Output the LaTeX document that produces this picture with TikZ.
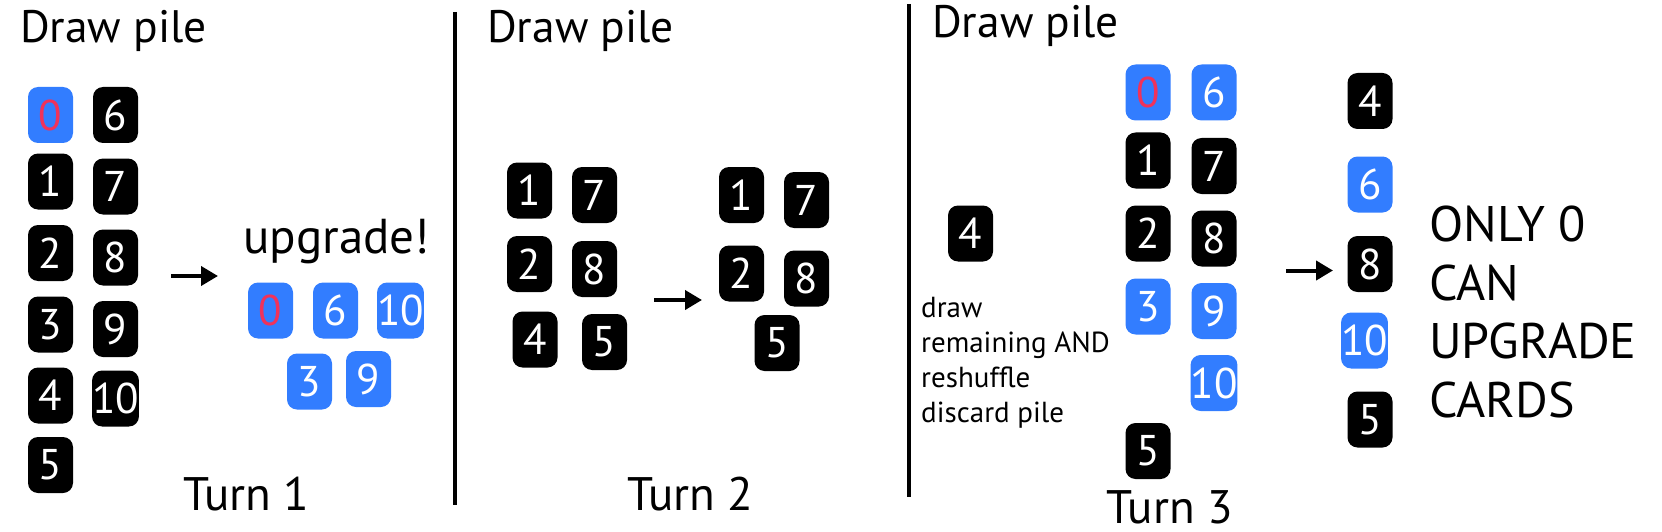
\documentclass[tikz,border=0pt]{standalone}
\usepackage{fontspec}
\setmainfont{PT Sans}
\usetikzlibrary{arrows.meta}
\definecolor{cardblue}{RGB}{50,125,255}
\definecolor{zerored}{RGB}{240,50,90}

\begin{document}
\begin{tikzpicture}[x=1pt,y=-1pt,line join=round,
  card/.style={rounded corners=10pt,fill=black,text=white,minimum width=45pt,minimum height=56pt,inner sep=0pt,font=\fontsize{43}{43}\selectfont},
  upcard/.style={card,fill=cardblue},
  zerocard/.style={upcard,text=zerored},
  pilelabel/.style={anchor=base west,inner sep=0pt,font=\fontsize{45.5}{45.5}\selectfont},
  turnlabel/.style={anchor=base west,inner sep=0pt,font=\fontsize{47}{47}\selectfont},
  pushto/.style={line width=4pt,-{Triangle[length=17pt,width=19pt]}},
  divider/.style={line width=4pt}]
\useasboundingbox (0,0) rectangle (1662,532);
% turn 1
\node[pilelabel] (pile1) at (20,43) {Draw pile};
\node[zerocard] (t1c0) at (50.5,115) {0};
\node[card] (t1c6) at (115.5,115) {6};
\node[card] (t1c1) at (50.5,181.5) {1};
\node[card] (t1c7) at (115.5,186.5) {7};
\node[card] (t1c2) at (50.5,253) {2};
\node[card] (t1c8) at (115.5,257.5) {8};
\node[card] (t1c3) at (50.5,324.5) {3};
\node[card] (t1c9) at (115.5,329) {9};
\node[card] (t1c4) at (50.5,395.5) {4};
\node[card] (t1c10) at (115.5,398.5) {10};
\node[card] (t1c5) at (50.5,465) {5};
\coordinate (t1from) at (171,276);
\coordinate (t1to) at (218,276);
\draw[pushto] (t1from) -- (t1to);
\node[anchor=base west,inner sep=0pt,font=\fontsize{49}{49}\selectfont] (upg) at (243,253) {upgrade!};
\node[zerocard] (u0) at (270.5,310.5) {0};
\node[upcard] (u6) at (335.5,310.5) {6};
\node[upcard] (u10) at (400.5,310.5) {10};
\node[upcard] (u3) at (309.5,381.5) {3};
\node[upcard] (u9) at (368.5,379) {9};
\node[turnlabel] (turn1) at (183,510) {Turn 1};
\coordinate (div1top) at (455,12);
\coordinate (div1bot) at (455,505);
\draw[divider] (div1top) -- (div1bot);
% turn 2
\node[pilelabel] (pile2) at (487,43) {Draw pile};
\node[card] (t2c1) at (529.5,190.5) {1};
\node[card] (t2c7) at (594.5,195) {7};
\node[card] (t2c2) at (529.5,264) {2};
\node[card] (t2c8) at (594.5,269) {8};
\node[card] (t2c4) at (535,339.5) {4};
\node[card] (t2c5) at (604.5,342) {5};
\coordinate (t2from) at (654,300);
\coordinate (t2to) at (702,300);
\draw[pushto] (t2from) -- (t2to);
\node[card] (k1) at (741.5,195) {1};
\node[card] (k7) at (806.5,200) {7};
\node[card] (k2) at (741.5,273.5) {2};
\node[card] (k8) at (806.5,278.5) {8};
\node[card] (k5) at (777,343) {5};
\node[turnlabel] (turn2) at (627,510) {Turn 2};
\coordinate (div2top) at (909,4);
\coordinate (div2bot) at (909,497);
\draw[divider] (div2top) -- (div2bot);
% turn 3
\node[pilelabel] (pile3) at (932,37.5) {Draw pile};
\node[card] (t3c4) at (970.5,233.5) {4};
\node[anchor=base west,inner sep=0pt,align=left,font=\fontsize{29}{35}\selectfont] (note) at (921,422) {draw\\remaining AND\\reshuffle\\discard pile};
\node[zerocard] (t3c0) at (1148,92.5) {0};
\node[upcard] (t3c6) at (1214,92.5) {6};
\node[card] (t3c1) at (1148,160.5) {1};
\node[card] (t3c7) at (1214,166) {7};
\node[card] (t3c2) at (1148,233.5) {2};
\node[card] (t3c8) at (1214,238.5) {8};
\node[upcard] (t3c3) at (1148,306.5) {3};
\node[upcard] (t3c9) at (1214,311) {9};
\node[upcard] (t3c10) at (1214,383) {10};
\node[card] (t3c5) at (1148,451) {5};
\coordinate (t3from) at (1286,270.5);
\coordinate (t3to) at (1333,270.5);
\draw[pushto] (t3from) -- (t3to);
\node[card] (h4) at (1370,101) {4};
\node[upcard] (h6) at (1370,184.5) {6};
\node[card] (h8) at (1370,264) {8};
\node[upcard] (h10) at (1364.5,340.5) {10};
\node[card] (h5) at (1370,419.5) {5};
\node[anchor=base west,inner sep=0pt,align=left,font=\fontsize{50}{58.5}\selectfont] (rule) at (1429,417) {ONLY 0\\CAN\\UPGRADE\\CARDS};
\node[turnlabel] (turn3) at (1106.5,523) {Turn 3};
\end{tikzpicture}
\end{document}
